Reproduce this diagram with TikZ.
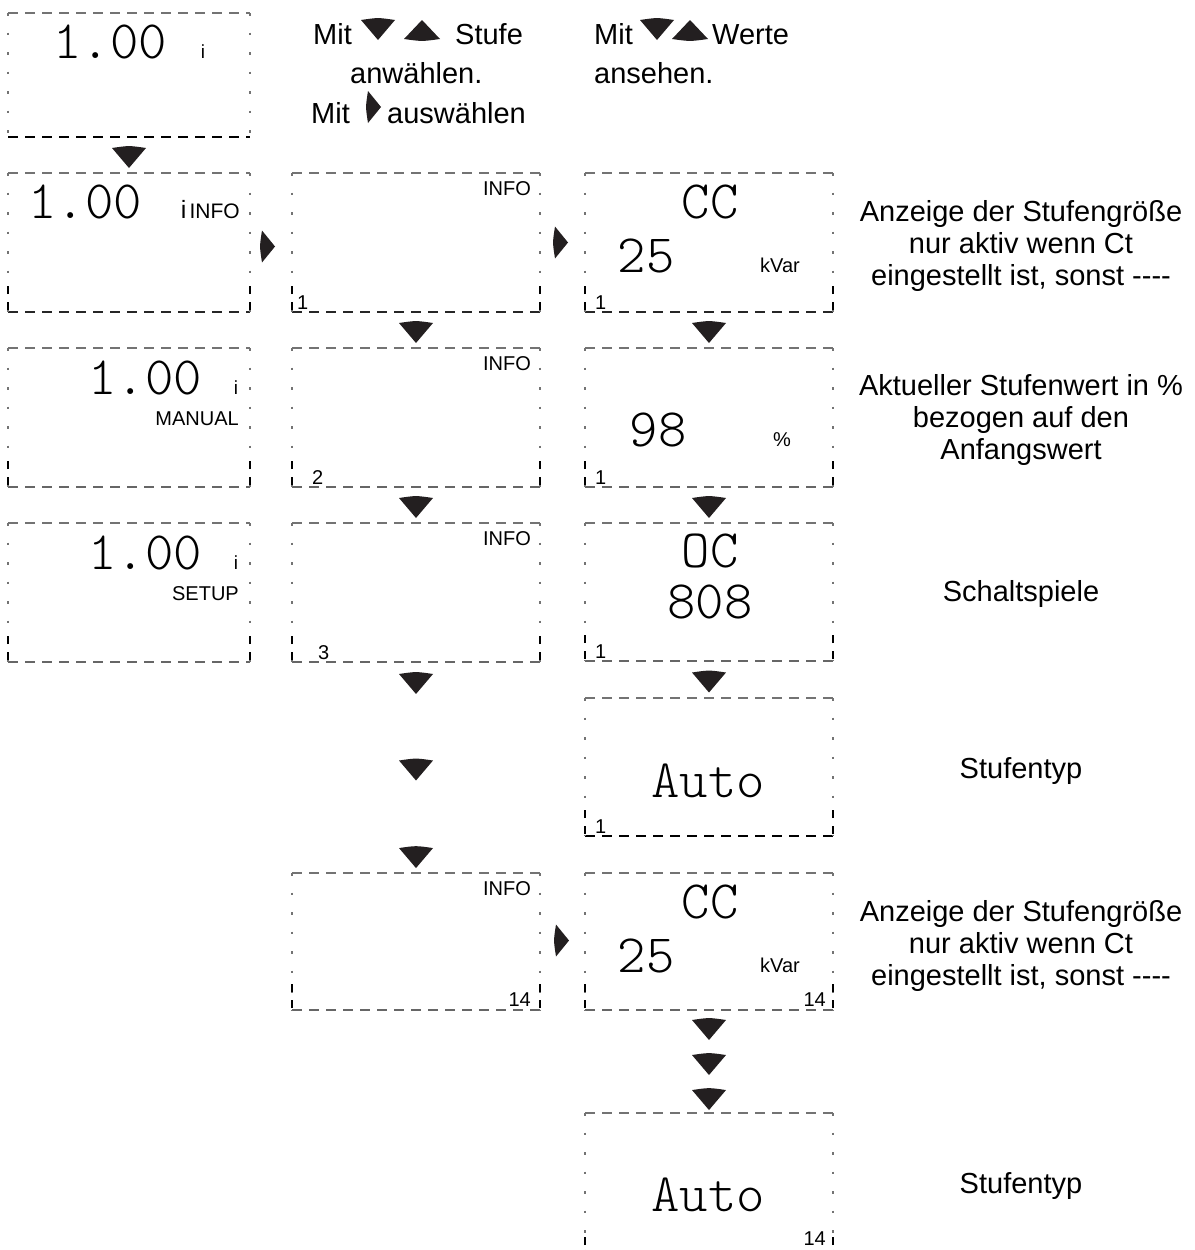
\documentclass[tikz,border=0pt]{standalone}
\usepackage{fontspec}
\setmainfont{Liberation Sans}
\newfontfamily\lcdfont{lmmonolt10-regular.otf}
\usetikzlibrary{calc}
\definecolor{inkblk}{RGB}{35,31,32}
\newcommand\lcdbox[7]{%
  \node[boxnode, minimum width=#4pt, minimum height=#5pt, anchor=north west] (#1) at (#2,#3) {};
  \draw[edgetop] (#1.north west) -- (#1.north east);
  \draw[#6] (#1.south west) -- (#1.south east);
  \draw[edgeside] (#1.north west) -- (#1.south west);
  \draw[edgeside] (#1.north east) -- (#1.south east);
  \draw[#7] ($(#1.south west)+(0,-2)$) -- ++(0,-30);
  \draw[#7] ($(#1.south east)+(0,-2)$) -- ++(0,-30);
}
\tikzset{
  downtri/.pic={\fill[inkblk] (-17,-7) .. controls (0,-9.5) .. (17,-7) -- (0,13) -- cycle;},
  uptri/.pic={\fill[inkblk] (-18,0) .. controls (0,2.5) .. (18,0) -- (0,-19) -- cycle;},
  righttri/.pic={\fill[inkblk] (0,-16) .. controls (-2.5,0) .. (0,16) -- (13,0) -- cycle;},
}
\begin{document}
\begin{tikzpicture}[x=1pt,y=-1pt,
  boxnode/.style={rectangle, inner sep=0pt, outer sep=0pt},
  edgetop/.style={draw=black!55, line width=1.2pt, dash pattern=on 10pt off 7pt},
  edgebot/.style={draw=black!60, line width=1.3pt, dash pattern=on 10pt off 7pt},
  edgemid/.style={draw=black!85, line width=1.9pt, dash pattern=on 10pt off 7pt},
  edgebold/.style={draw=black, line width=2.8pt, dash pattern=on 10pt off 7pt},
  edgeside/.style={draw=black!55, line width=1.8pt, dash pattern=on 2.5pt off 17pt},
  edgetick/.style={draw=black, line width=2.6pt, dash pattern=on 8pt off 8pt},
  notick/.style={draw=none},
  big/.style={font=\lcdfont\fontsize{54}{54}\selectfont, inner sep=0pt, anchor=base},
  small/.style={font=\fontsize{20}{20}\selectfont, inner sep=0pt},
  lab/.style={font=\fontsize{29}{32}\selectfont, inner sep=0pt, align=center},
  toplab/.style={font=\fontsize{29}{29}\selectfont, inner sep=0pt, anchor=base west},
]
\useasboundingbox (0,0) rectangle (1194,1250);
% boxes
\lcdbox{b0}{8}{13}{242}{124}{edgebold}{notick}
\lcdbox{b1}{8}{173}{242}{139}{edgemid}{edgetick}
\lcdbox{b2}{8}{348}{242}{139}{edgebot}{edgetick}
\lcdbox{b3}{8}{523}{242}{139}{edgebot}{edgetick}
\lcdbox{c1}{292}{173}{248}{139}{edgemid}{edgetick}
\lcdbox{c2}{292}{348}{248}{139}{edgebot}{edgetick}
\lcdbox{c3}{292}{523}{248}{139}{edgebot}{edgetick}
\lcdbox{c5}{292}{873}{248}{137}{edgebot}{edgetick}
\lcdbox{d1}{585}{173}{248}{139}{edgemid}{edgetick}
\lcdbox{d2}{585}{348}{248}{139}{edgebot}{edgetick}
\lcdbox{d3}{585}{523}{248}{138}{edgebot}{edgetick}
\lcdbox{d4}{585}{698}{248}{138}{edgebold}{edgetick}
\lcdbox{d5}{585}{873}{248}{137}{edgebot}{edgetick}
\lcdbox{d6}{585}{1113}{248}{150}{edgebot}{edgetick}
% top instructions
\node[toplab] (m1) at (313,44) {Mit};
\pic at (378,27) {downtri};
\pic at (422,39) {uptri};
\node[toplab] (m2) at (455,44) {Stufe};
\node[toplab] (m3) at (350,83) {anwählen.};
\node[toplab] (m4) at (311,123) {Mit};
\pic at (368,107) {righttri};
\node[toplab] (m5) at (387,123) {auswählen};
\node[toplab] (m6) at (594,44) {Mit};
\pic at (657,27) {downtri};
\pic at (690,39) {uptri};
\node[toplab] (m7) at (712,44) {Werte};
\node[toplab] (m8) at (594,83) {ansehen.};
% column 1 contents
\node[big] (t01) at (110,58) {1.00};
\node[small, anchor=base] (t02) at (203,58) {\fontsize{19}{19}\selectfont i};
\node[big] (t11) at (85,218) {1.00};
\node[small, anchor=base east] (t12) at (240,218) {{\fontsize{25}{25}\selectfont i}\,\fontsize{21}{21}\selectfont INFO};
\node[big] (t21) at (145,394) {1.00};
\node[small, anchor=base] (t22) at (236,394) {\fontsize{19}{19}\selectfont i};
\node[small, anchor=base east] (t23) at (239,425) {MANUAL};
\node[big] (t31) at (145,569) {1.00};
\node[small, anchor=base] (t32) at (236,569) {\fontsize{19}{19}\selectfont i};
\node[small, anchor=base east] (t33) at (239,600) {SETUP};
% column 2 contents
\node[small, anchor=base east] (u11) at (531,195) {INFO};
\node[small, anchor=base west] (u12) at (297,309) {1};
\node[small, anchor=base east] (u21) at (531,370) {INFO};
\node[small, anchor=base west] (u22) at (312,484) {2};
\node[small, anchor=base east] (u31) at (531,545) {INFO};
\node[small, anchor=base west] (u32) at (318,659) {3};
\node[small, anchor=base east] (u51) at (531,895) {INFO};
\node[small, anchor=base east] (u52) at (531,1006) {14};
% column 3 contents
\node[big] (v11) at (710,218) {CC};
\node[big] (v12) at (646,272) {25};
\node[small, anchor=base west] (v13) at (760,272) {kVar};
\node[small, anchor=base west] (v14) at (595,309) {1};
\node[big] (v21) at (658,446) {98};
\node[small, anchor=base west] (v22) at (773,446) {\%};
\node[small, anchor=base west] (v23) at (595,484) {1};
\node[big] (v31) at (710,567) {OC};
\node[big] (v32) at (710,618) {808};
\node[small, anchor=base west] (v33) at (595,658) {1};
\node[big] (v41) at (708,797) {Auto};
\node[small, anchor=base west] (v42) at (595,833) {1};
\node[big] (v51) at (710,918) {CC};
\node[big] (v52) at (646,972) {25};
\node[small, anchor=base west] (v53) at (760,972) {kVar};
\node[small, anchor=base east] (v54) at (826,1006) {14};
\node[big] (v61) at (708,1211) {Auto};
\node[small, anchor=base east] (v62) at (826,1245) {14};
% descriptions
\node[lab] (w1) at (1021,246) {Anzeige der Stufengröße\\nur aktiv wenn Ct\\eingestellt ist, sonst -{}-{}-{}-};
\node[lab] (w2) at (1021,420) {Aktueller Stufenwert in \%\\bezogen auf den\\Anfangswert};
\node[lab] (w3) at (1021,594) {Schaltspiele};
\node[lab] (w4) at (1021,771) {Stufentyp};
\node[lab] (w5) at (1021,946) {Anzeige der Stufengröße\\nur aktiv wenn Ct\\eingestellt ist, sonst -{}-{}-{}-};
\node[lab] (w6) at (1021,1186) {Stufentyp};
% down arrows
\pic at ($(b0.south)!0.5!(b1.north)$) {downtri};
\pic at ($(c1.south)!0.5!(c2.north)$) {downtri};
\pic at ($(d1.south)!0.5!(d2.north)$) {downtri};
\pic at ($(c2.south)!0.5!(c3.north)$) {downtri};
\pic at ($(d2.south)!0.5!(d3.north)$) {downtri};
\pic at ($(d3.south)!0.5!(d4.north)$) {downtri};
\pic at ($(c3.south)!0.09!(c5.north)$) {downtri};
\pic at ($(c3.south)!0.5!(c5.north)$) {downtri};
\pic at ($(c3.south)!0.915!(c5.north)$) {downtri};
\pic at ($(d5.south)!0.165!(d6.north)$) {downtri};
\pic at ($(d5.south)!0.505!(d6.north)$) {downtri};
\pic at ($(d5.south)!0.845!(d6.north)$) {downtri};
% right arrows
\pic at ($(b1.east)+(12,4)$) {righttri};
\pic at ($(c1.east)+(15,0)$) {righttri};
\pic at ($(c5.east)+(16,-1)$) {righttri};
\end{tikzpicture}
\end{document}
